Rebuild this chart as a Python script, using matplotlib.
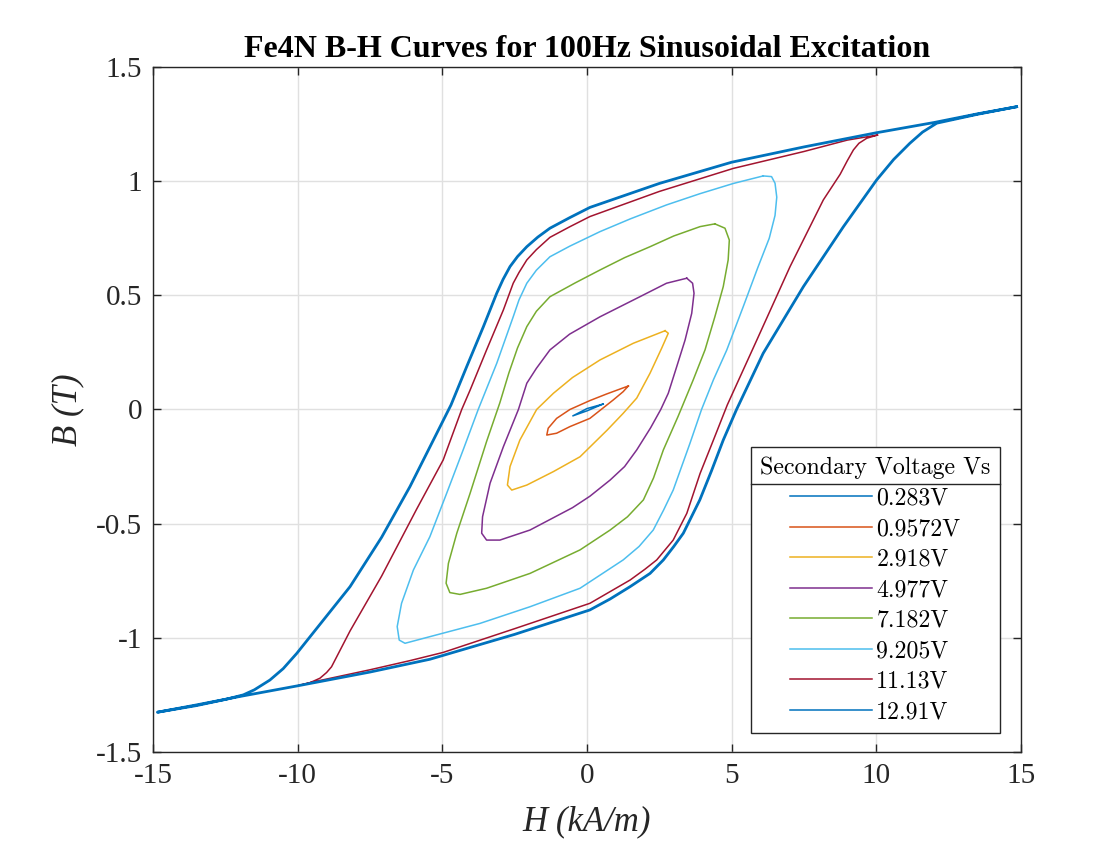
import numpy as np
import matplotlib
matplotlib.use('Agg')
import matplotlib.pyplot as plt
from matplotlib.lines import Line2D

# B-H loop readings (H in kA/m, B in T), each loop traced once around
h_0283 = [0.56, 0.0, -0.49, 0.0, 0.56]
b_0283 = [0.024, 0.004, -0.028, -0.006, 0.024]

h_0957 = [1.43, 0.68, 0.1, -0.59, -1.05, -1.34, -1.39, -1.05, -0.59, 0.1, 0.91, 1.25, 1.43]
b_0957 = [0.103, 0.068, 0.039, 0.0, -0.039, -0.082, -0.112, -0.104, -0.075, -0.039, 0.042, 0.078, 0.103]

h_2918 = [2.70, 2.2, 1.6, 0.45, -0.5, -1.16, -1.74, -2.32, -2.66, -2.75, -2.60, -2.08, -1.16, -0.24,
          0.7, 1.25, 1.72, 2.18, 2.58, 2.81, 2.70]
b_2918 = [0.345, 0.32, 0.29, 0.217, 0.14, 0.071, 0.0, -0.134, -0.250, -0.331, -0.353, -0.331, -0.272,
          -0.207, -0.09, -0.017, 0.05, 0.159, 0.268, 0.334, 0.345]

h_4977 = [3.45, 2.75, 1.83, 0.45, -0.6, -1.28, -1.75, -2.08, -2.37, -2.89, -3.35, -3.61, -3.64, -3.47,
          -3.01, -1.97, -0.5, 0.1, 0.8, 1.3, 1.72, 2.2, 2.55, 2.81, 3.10, 3.39, 3.62, 3.70, 3.65, 3.45]
b_4977 = [0.575, 0.553, 0.494, 0.406, 0.33, 0.261, 0.18, 0.115, 0.0, -0.163, -0.323, -0.470, -0.542,
          -0.572, -0.572, -0.528, -0.43, -0.38, -0.309, -0.25, -0.177, -0.08, 0.0, 0.071, 0.187, 0.304,
          0.421, 0.509, 0.553, 0.575]

h_7182 = [4.42, 3.91, 3.0, 2.18, 1.3, 0.45, -0.4, -1.28, -1.75, -2.08, -2.4, -2.7, -3.01, -3.47, -4.04,
          -4.50, -4.79, -4.87, -4.74, -4.39, -3.47, -1.97, -0.24, 0.8, 1.4, 1.95, 2.3, 2.64, 3.15, 3.67,
          4.08, 4.42, 4.71, 4.88, 4.92, 4.77, 4.42]
b_7182 = [0.813, 0.801, 0.76, 0.713, 0.665, 0.611, 0.555, 0.494, 0.43, 0.363, 0.27, 0.16, 0.03, -0.14,
          -0.367, -0.542, -0.674, -0.761, -0.802, -0.810, -0.783, -0.718, -0.615, -0.528, -0.47, -0.396,
          -0.3, -0.177, -0.03, 0.129, 0.261, 0.406, 0.538, 0.655, 0.742, 0.794, 0.813]

h_9205 = [6.09, 5.06, 3.9, 2.75, 1.5, 0.45, -0.6, -1.28, -1.75, -2.08, -2.35, -2.55, -3.12, -3.76, -4.28,
          -4.85, -5.43, -6.0, -6.41, -6.56, -6.49, -6.29, -5.43, -3.70, -1.97, -0.24, 1.25, 1.8, 2.29,
          2.65, 2.98, 3.56, 3.96, 4.37, 4.83, 5.4, 5.9, 6.3, 6.5, 6.56, 6.50, 6.38, 6.09]
b_9205 = [1.023, 0.99, 0.945, 0.896, 0.835, 0.779, 0.715, 0.669, 0.61, 0.553, 0.48, 0.406, 0.202, 0.0,
          -0.177, -0.367, -0.557, -0.703, -0.849, -0.951, -1.010, -1.024, -0.995, -0.937, -0.864, -0.783,
          -0.659, -0.6, -0.528, -0.44, -0.353, -0.148, 0.0, 0.13, 0.26, 0.45, 0.62, 0.75, 0.85, 0.93,
          0.991, 1.020, 1.023]

h_1113 = [10.04, 9.0, 7.5, 5.06, 2.5, 0.1, -0.6, -1.28, -1.75, -2.08, -2.35, -2.55, -2.89, -3.47, -4.04,
          -4.33, -4.97, -5.89, -7.1, -8.19, -8.83, -9.0, -9.23, -9.6, -9.98, -9.6, -7.5, -6.12, -4.97,
          -2.5, 0.1, 1.49, 2.0, 2.41, 2.98, 3.45, 3.91, 4.37, 4.85, 5.87, 7.02, 8.17, 8.75, 9.0, 9.21,
          9.4, 9.67, 10.04]
b_1113 = [1.202, 1.18, 1.13, 1.056, 0.955, 0.845, 0.80, 0.754, 0.70, 0.655, 0.60, 0.553, 0.436, 0.261,
          0.085, 0.0, -0.221, -0.437, -0.73, -0.97, -1.127, -1.152, -1.177, -1.198, -1.209, -1.197,
          -1.14, -1.1, -1.064, -0.96, -0.849, -0.747, -0.70, -0.659, -0.572, -0.455, -0.28, -0.134, 0.02,
          0.304, 0.626, 0.918, 1.03, 1.09, 1.137, 1.166, 1.188, 1.202]

h_1291 = [14.85, 13.5, 12.0, 10.0, 7.5, 5.0, 2.5, 0.1, -0.6, -1.28, -1.7, -2.08, -2.4, -2.66, -2.9, -3.12,
          -3.58, -4.16, -4.7, -5.31, -6.12, -7.1, -8.19, -9.11, -10.03, -10.5, -10.96, -11.5, -11.88,
          -12.5, -13.5, -14.85, -13.5, -12.0, -10.03, -7.5, -5.43, -2.5, 0.1, 0.8, 1.49, 2.18, 2.64,
          3.0, 3.33, 3.9, 4.3, 4.71, 5.17, 6.09, 7.48, 8.86, 10.01, 10.6, 11.16, 11.6, 12.09, 13.5, 14.85]
b_1291 = [1.326, 1.295, 1.257, 1.212, 1.15, 1.083, 0.99, 0.885, 0.84, 0.794, 0.755, 0.713, 0.67, 0.626,
          0.57, 0.509, 0.363, 0.187, 0.02, -0.134, -0.338, -0.56, -0.776, -0.922, -1.068, -1.135,
          -1.185, -1.228, -1.25, -1.27, -1.297, -1.326, -1.294, -1.257, -1.211, -1.15, -1.094, -0.985,
          -0.878, -0.83, -0.776, -0.718, -0.659, -0.6, -0.542, -0.396, -0.27, -0.134, 0.0, 0.246, 0.538,
          0.80, 1.005, 1.095, 1.166, 1.215, 1.254, 1.293, 1.326]

labels = ['0.283V', '0.9572V', '2.918V', '4.977V', '7.182V', '9.205V', '11.13V', '12.91V']
colors = ['#0072BD', '#D95319', '#EDB120', '#7E2F8E', '#77AC30', '#4DBEEE', '#A2142F', '#0072BD']
loops = [(h_0283, b_0283), (h_0957, b_0957), (h_2918, b_2918), (h_4977, b_4977),
         (h_7182, b_7182), (h_9205, b_9205), (h_1113, b_1113), (h_1291, b_1291)]

plt.rcParams['font.family'] = ['Liberation Serif', 'DejaVu Serif']

fig = plt.figure(figsize=(11.17, 8.43), dpi=100)
ax = fig.add_axes([0.137, 0.108, 0.777, 0.8125])

for i, (h, b) in enumerate(loops):
    lw = 2.0 if i == 7 else 1.1
    ax.plot(h, b, color=colors[i], lw=lw, label=labels[i], solid_joinstyle='round')

ax.set_xlim(-15, 15)
ax.set_ylim(-1.5, 1.5)
ax.set_xticks([-15, -10, -5, 0, 5, 10, 15])
ax.set_yticks([-1.5, -1, -0.5, 0, 0.5, 1, 1.5])
ax.set_xticklabels(['-15', '-10', '-5', '0', '5', '10', '15'])
ax.set_yticklabels(['-1.5', '-1', '-0.5', '0', '0.5', '1', '1.5'])
ax.grid(True, color='#e0e0e0', lw=1.0)
ax.set_axisbelow(True)
ax.tick_params(direction='in', length=6, width=1, top=True, right=True,
               labelsize=21, colors='#262626', pad=8)
for s in ax.spines.values():
    s.set_color('#262626')
    s.set_linewidth(1.0)

ax.set_title('Fe4N B-H Curves for 100Hz Sinusoidal Excitation', fontsize=23,
             fontweight='bold', pad=7)
ax.set_xlabel('H (kA/m)', fontsize=25, style='italic', color='#262626', labelpad=12)
ax.set_ylabel('B (T)', fontsize=25, style='italic', color='#262626', labelpad=8)

leg = ax.legend(title='Secondary Voltage Vs', loc='lower right',
                bbox_to_anchor=(0.976, 0.028), borderaxespad=0,
                prop={'family': 'cmr10', 'size': 17.2},
                title_fontproperties={'family': 'cmr10', 'size': 17.2},
                frameon=True, fancybox=False, framealpha=1, edgecolor='#262626',
                handlelength=3.4, handletextpad=0.2, labelspacing=0.35, borderpad=0.4)
leg.get_frame().set_linewidth(1.0)
for ln in leg.get_lines():
    ln.set_linewidth(1.1)

# separator line under the legend title
fig.canvas.draw()
r = fig.canvas.get_renderer()
tb = leg.get_title().get_window_extent(r)
fb = leg.get_frame().get_window_extent(r)
t0 = leg.get_texts()[0].get_window_extent(r)
ysep = (tb.y0 + t0.y1) / 2
inv = fig.transFigure.inverted()
(x0, y0), (x1, y1) = inv.transform([(fb.x0, ysep), (fb.x1, ysep)])
fig.add_artist(Line2D([x0, x1], [y0, y1], transform=fig.transFigure, color='#262626', lw=1.0))

fig.savefig('out.png', dpi=100)
